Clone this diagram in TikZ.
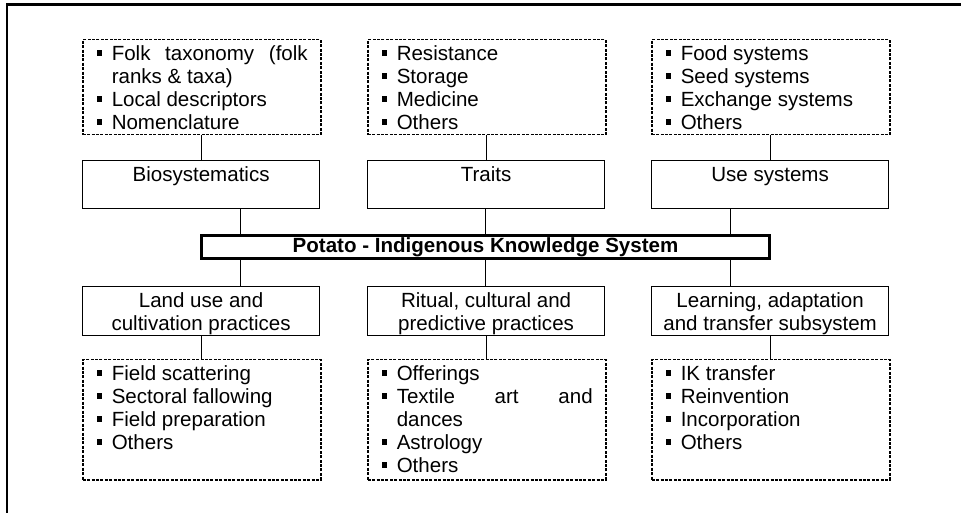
\documentclass[tikz,border=0pt]{standalone}
\usepackage{fontspec}
\setmainfont{Liberation Sans}
\newlength\px \setlength\px{0.75pt}
\newcommand\bitem[1]{\par\hangindent=29\px\hangafter=1\noindent\hspace*{14\px}\makebox[15\px][l]{\rule[5\px]{5.5\px}{5.5\px}}#1}
\newcommand\firststrut{\rule{0pt}{21\px}}
\newcommand\listbox[2]{\parbox[t][#1][t]{238\px}{\hyphenpenalty=10000 \exhyphenpenalty=10000 \tolerance=10000 \hbadness=10000 \rightskip=13\px \parindent=0pt \parskip=0pt \baselineskip=23\px #2}}
\newcommand\headbox[2]{\parbox[t][#1][t]{237\px}{\centering\baselineskip=23\px \rule{0pt}{20.5\px}#2}}
\begin{document}
\begin{tikzpicture}[x=0.75pt,y=-0.75pt,
  font=\fontsize{15.4pt}{17.25pt}\selectfont,
  dotbox/.style={draw, line width=1.5\px, dash pattern=on 3\px off 1.4\px, inner sep=0pt, anchor=north west},
  headnode/.style={draw, line width=1.2\px, inner sep=0pt, anchor=north west},
  mainbox/.style={draw, line width=3\px, inner sep=0pt, minimum width=568\px, minimum height=23\px, font=\fontsize{15.4pt}{17.25pt}\selectfont\bfseries},
  link/.style={line width=1\px},
  frame/.style={line width=2.5\px}]
\useasboundingbox (0,0) rectangle (961,513);
\draw[frame] (7.2,513) -- (7.2,4.7) -- (961,4.7);

% top dotted boxes
\node[dotbox] (t1) at (82,39) {\listbox{95\px}{\bitem{\firststrut Folk taxonomy (folk ranks \& taxa)}\bitem{Local descriptors}\bitem{Nomenclature}}};
\node[dotbox] (t2) at (367,39) {\listbox{95\px}{\bitem{\firststrut Resistance}\bitem{Storage}\bitem{Medicine}\bitem{Others}}};
\node[dotbox] (t3) at (651,39) {\listbox{95\px}{\bitem{\firststrut Food systems}\bitem{Seed systems}\bitem{Exchange systems}\bitem{Others}}};

% upper head boxes
\node[headnode] (m1) at (82,160) {\headbox{48\px}{Biosystematics}};
\node[headnode] (m2) at (367,160) {\headbox{48\px}{Traits}};
\node[headnode] (m3) at (651,160) {\headbox{48\px}{Use systems}};

% main
\node[mainbox] (main) at (485.5,247) {Potato - Indigenous Knowledge System};

% lower head boxes
\node[headnode] (b1) at (82,286) {\headbox{49\px}{Land use and\\cultivation practices}};
\node[headnode] (b2) at (367,286) {\headbox{49\px}{Ritual, cultural and\\predictive practices}};
\node[headnode] (b3) at (651,286) {\headbox{49\px}{Learning, adaptation\\and transfer subsystem}};

% bottom dotted boxes
\node[dotbox] (d1) at (82,359) {\listbox{120\px}{\bitem{\firststrut Field scattering}\bitem{Sectoral fallowing}\bitem{Field preparation}\bitem{Others}}};
\node[dotbox] (d2) at (367,359) {\listbox{120\px}{\bitem{\firststrut Offerings}\bitem{Textile art and\linebreak dances}\bitem{Astrology}\bitem{Others}}};
\node[dotbox] (d3) at (651,359) {\listbox{120\px}{\bitem{\firststrut IK transfer}\bitem{Reinvention}\bitem{Incorporation}\bitem{Others}}};

% connectors
\draw[link] (t1.south) -- (t1.south |- m1.north);
\draw[link] (t2.south) -- (t2.south |- m2.north);
\draw[link] (t3.south) -- (t3.south |- m3.north);
\coordinate (ml) at ([xshift=40\px]main.north west);
\coordinate (mr) at ([xshift=-41\px]main.north east);
\coordinate (mlb) at ([xshift=40\px]main.south west);
\coordinate (mrb) at ([xshift=-41\px]main.south east);
\draw[link] (ml) -- (ml |- m1.south);
\draw[link] (main.north) -- (main.north |- m2.south);
\draw[link] (mr) -- (mr |- m3.south);
\draw[link] (mlb) -- (mlb |- b1.north);
\draw[link] (main.south) -- (main.south |- b2.north);
\draw[link] (mrb) -- (mrb |- b3.north);
\draw[link] (d1.north) -- (d1.north |- b1.south);
\draw[link] (d2.north) -- (d2.north |- b2.south);
\draw[link] (d3.north) -- (d3.north |- b3.south);
\end{tikzpicture}
\end{document}
